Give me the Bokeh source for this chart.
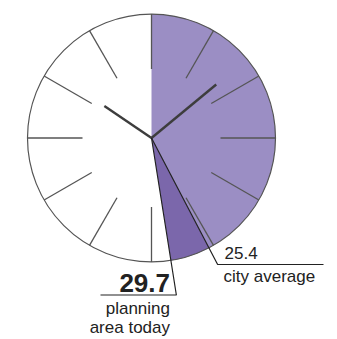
import numpy as np
from bokeh.plotting import figure
from bokeh.models import Range1d, ColumnDataSource
from bokeh.core.properties import value
from bokeh.embed import file_html
from bokeh.resources import INLINE

# ---- data ----
series_names = ["city average", "planning area today"]
label_values = ["25.4", "29.7"]
# arc end positions (minutes on a 60-minute clock face) as drawn in the picture
wedge_minutes = [25.4, 28.5]
wedge_colors = ["#9b8ec4", "#7b67ab"]
tick_minutes = [0, 5, 10, 15, 20, 25, 30, 35, 40, 45, 50, 55]
clock_hour = 10
clock_minute = 8.4

W, H = 337, 339
cx, cy = 151.0, H - 137.5
R = 124.0
R_tick = 69.0
L_min, L_hour = 84.0, 57.0

p = figure(width=W, height=H, output_backend="svg", toolbar_location=None,
           title=None, x_range=Range1d(0, W), y_range=Range1d(0, H),
           min_border=0, x_axis_location=None, y_axis_location=None)
p.grid.visible = False
p.outline_line_color = None
p.background_fill_color = "white"
p.border_fill_color = "white"


def clock_angle(minutes):
    # bokeh angle (ccw from +x) for a clock position in minutes
    return np.pi / 2 - np.asarray(minutes, dtype=float) / 60.0 * 2 * np.pi


def clock_dir(minutes):
    t = np.asarray(minutes, dtype=float) / 60.0 * 2 * np.pi
    return np.sin(t), np.cos(t)


# face
p.circle(x=[cx], y=[cy], radius=R, fill_color="white", line_color=None)

# wedges
starts = [0.0] + wedge_minutes[:-1]
wsrc = ColumnDataSource(dict(
    x=[cx] * len(wedge_minutes), y=[cy] * len(wedge_minutes),
    start=clock_angle(starts), end=clock_angle(wedge_minutes),
    color=wedge_colors))
p.wedge(x="x", y="y", radius=R, start_angle="start", end_angle="end",
        direction="clock", fill_color="color", line_color=None, source=wsrc)

# outline
p.circle(x=[cx], y=[cy], radius=R, fill_color=None, line_color="#555555",
         line_width=1.2)

# ticks
sx, sy = clock_dir(tick_minutes)
p.segment(x0=cx + R_tick * sx, y0=cy + R_tick * sy,
          x1=cx + R * sx, y1=cy + R * sy,
          line_color="#555555", line_width=1.3)

# hands
hand_pos = [clock_minute, (clock_hour % 12 + clock_minute / 60.0) * 5]
hand_len = [L_min, L_hour]
hx, hy = clock_dir(hand_pos)
p.segment(x0=[cx, cx], y0=[cy, cy],
          x1=cx + np.array(hand_len) * hx, y1=cy + np.array(hand_len) * hy,
          line_color="#3d3d3d", line_width=2.4)

# leader lines
ink = "#222222"
leader_y = [H - 264.0, H - 294.5]
leader_xend = [323.0, 100.0]
for m, ly, xe in zip(wedge_minutes, leader_y, leader_xend):
    dx, dy = clock_dir([m])
    t = (cy - ly) / (-dy[0])
    ex = cx + t * dx[0]
    p.line(x=[cx, ex, xe], y=[cy, ly, ly], line_color=ink, line_width=1.2)

# labels
font = value("Liberation Sans")


def label(x, y_px, txt, size, align, bold=False):
    # y_px: desired baseline in pixels from top; compensate renderer offset
    y = H - y_px + 0.36 * size
    p.text(x=[x], y=[y], text=[txt], text_font=font,
           text_font_size=f"{size}px",
           text_font_style="bold" if bold else "normal",
           text_color=ink, text_baseline="alphabetic", text_align=align)


label(224, 259.0, label_values[0], 17, "left")
label(223, 282.5, series_names[0], 17, "left")
label(169.5, 291.5, label_values[1], 26, "right", bold=True)
label(169.5, 314.0, "planning", 17, "right")
label(169.5, 333.5, "area today", 17, "right")

open("out.html", "w").write(file_html(p, INLINE))
